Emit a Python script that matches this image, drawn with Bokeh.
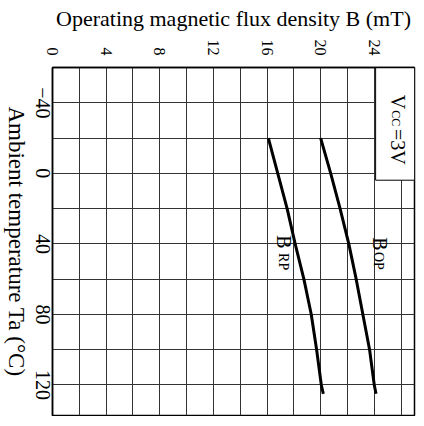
from bokeh.plotting import figure
from bokeh.models import Range1d, FixedTicker, Label
from bokeh.embed import file_html
from bokeh.resources import INLINE

# Data
temp = [-20, 0, 20, 40, 60, 80, 100, 120, 125]
b_op = [20.0, 20.75, 21.45, 22.1, 22.65, 23.15, 23.65, 24.0, 24.13]
b_rp = [16.1, 16.8, 17.5, 18.1, 18.75, 19.3, 19.7, 20.05, 20.2]
b_ticks = [0, 4, 8, 12, 16, 20, 24]
t_ticks = [-40, 0, 40, 80, 120]
t_tick_labels = {-40: "\u221240", 0: "0", 40: "40", 80: "80", 120: "120"}
b_grid = list(range(0, 27, 2))
t_grid = list(range(-60, 121, 20))

FONT = "Liberation Serif"

# The chart is drawn in its natural orientation (temperature along x, B along y)
# and the whole plot is then turned a quarter turn clockwise, as in the reference.
W, H = 422, 416
p = figure(width=W, height=H, output_backend="svg", toolbar_location=None,
           x_range=Range1d(-60, 137.3), y_range=Range1d(0, 27),
           min_border_left=67, min_border_right=1, min_border_top=1, min_border_bottom=59)
p.styles = {"transform": "translateX(%dpx) rotate(90deg)" % H,
            "transform-origin": "0 0"}

p.outline_line_color = "black"
p.outline_line_width = 1.5

p.xaxis.ticker = FixedTicker(ticks=t_ticks)
p.xaxis.major_label_overrides = t_tick_labels
p.yaxis.ticker = FixedTicker(ticks=b_ticks)
for ax in (p.xaxis[0], p.yaxis[0]):
    ax.major_tick_in = 0
    ax.major_tick_out = 0
    ax.minor_tick_in = 0
    ax.minor_tick_out = 0
    ax.axis_line_color = "black"
    ax.axis_line_width = 1.5
    ax.major_label_text_font = FONT
    ax.major_label_text_color = "black"
    ax.major_label_orientation = "horizontal"
    ax.axis_label_text_font = FONT
    ax.axis_label_text_font_style = "normal"
    ax.axis_label_text_color = "black"
    ax.axis_label_text_font_size = "22px"

p.xaxis.major_label_text_font_size = "20px"
p.xaxis.major_label_standoff = 3
p.xaxis.axis_label = "Ambient temperature Ta (\u00b0C)"
p.xaxis.axis_label_text_font_size = "23px"
p.xaxis.axis_label_standoff = 4

p.yaxis.major_label_text_font_size = "16px"
p.yaxis.major_label_standoff = 12
p.yaxis.axis_label = "Operating magnetic flux density B (mT)"
p.yaxis.axis_label_standoff = 6

p.xgrid.ticker = FixedTicker(ticks=t_grid)
p.ygrid.ticker = FixedTicker(ticks=b_grid)
for g in (p.xgrid[0], p.ygrid[0]):
    g.grid_line_color = "#333333"
    g.grid_line_width = 1

# Vcc box
p.quad(left=[-60], right=[3.9], bottom=[24.1], top=[27],
       fill_color="white", line_color="black", line_width=1)

p.line(temp, b_op, line_color="black", line_width=3)
p.line(temp, b_rp, line_color="black", line_width=3)

def lab(x, y, text, size):
    p.add_layout(Label(x=x, y=y, text=text, text_font=FONT,
                       text_font_size=size, text_align="left",
                       text_baseline="middle", text_color="black"))

# Vcc = 3V
lab(-44.6, 25.78, "V", "20px")
lab(-35.7, 25.63, "CC", "12px")
lab(-25.1, 25.78, "=3V", "20px")
# Curve labels
lab(35.1, 17.3, "B", "20px")
lab(45.2, 17.2, "RP", "14px")
lab(36.2, 24.45, "B", "20px")
lab(44.6, 24.35, "OP", "14px")

open("out.html", "w").write(file_html(p, INLINE))
